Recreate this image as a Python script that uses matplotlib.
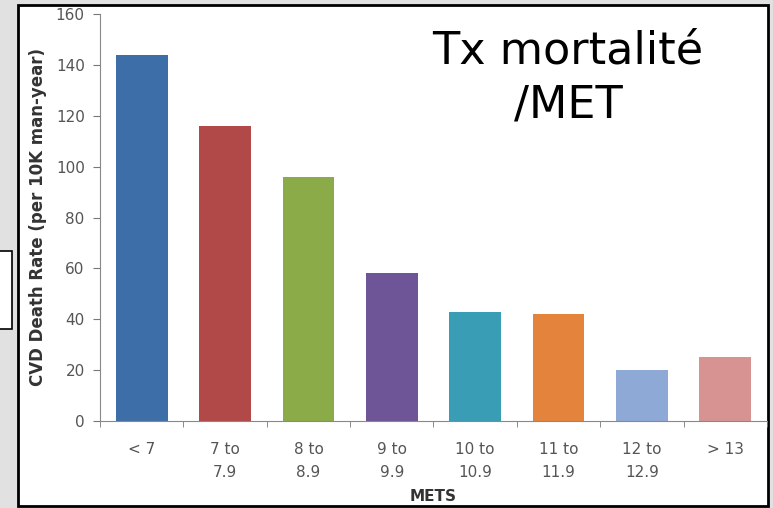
import matplotlib.pyplot as plt
from matplotlib.patches import Rectangle

# Data
categories = ['< 7', '7 to\n7.9', '8 to\n8.9', '9 to\n9.9', '10 to\n10.9', '11 to\n11.9', '12 to\n12.9', '> 13']
death_rate = [144, 116, 96, 58, 43, 42, 20, 25]
bar_colors = ['#3d6ea8', '#b04947', '#8aab48', '#6e5597', '#3a9db6',
              '#e4843c', '#8ea9d6', '#d79392']
y_ticks = [0, 20, 40, 60, 80, 100, 120, 140, 160]

W, H = 773, 508
fig = plt.figure(figsize=(W / 100, H / 100), dpi=100, facecolor='#e1e1e1')

# white slide box with black frame
fig.patches.append(Rectangle((18 / W, 1 - 506 / H), 750 / W, 501 / H,
                             transform=fig.transFigure, facecolor='white',
                             edgecolor='black', linewidth=2, zorder=-2))
# small box cut at left edge
fig.patches.append(Rectangle((-2 / W, 1 - 329 / H), 14 / W, 78 / H,
                             transform=fig.transFigure, facecolor='white',
                             edgecolor='black', linewidth=1.2, zorder=-2))

ax = fig.add_axes([100 / W, 1 - 421 / H, 667 / W, 407 / H])
ax.set_zorder(1)
ax.set_facecolor('white')

x = list(range(len(categories)))
ax.bar(x, death_rate, width=0.62, color=bar_colors, zorder=2)

ax.set_xlim(-0.5, len(categories) - 0.5)
ax.set_ylim(0, 160)
ax.set_yticks(y_ticks)
ax.set_xticks(x)
ax.set_xticklabels(categories, fontsize=11, color='#555555', linespacing=1.65)
ax.set_xticks([i - 0.5 for i in range(len(categories) + 1)], minor=True)
ax.tick_params(axis='x', which='major', length=0, pad=15)
ax.tick_params(axis='x', which='minor', length=4, color='#777777', direction='out')
ax.tick_params(axis='y', length=5, color='#777777', labelsize=11,
               labelcolor='#555555', pad=6)

for side in ['top', 'right']:
    ax.spines[side].set_visible(False)
for side in ['left', 'bottom']:
    ax.spines[side].set_color('#888888')

ax.set_ylabel('CVD Death Rate (per 10K man-year)', fontsize=12, fontweight='bold',
              color='#333333', labelpad=6)
ax.set_xlabel('METS', fontsize=11, fontweight='bold', color='#333333', labelpad=7)

fig.text(568 / W, 1 - 78 / H, 'Tx mortalité\n/MET', fontsize=32, ha='center',
         va='center', color='black', linespacing=1.3, zorder=3)

fig.savefig('out.png', dpi=100, facecolor=fig.get_facecolor())
